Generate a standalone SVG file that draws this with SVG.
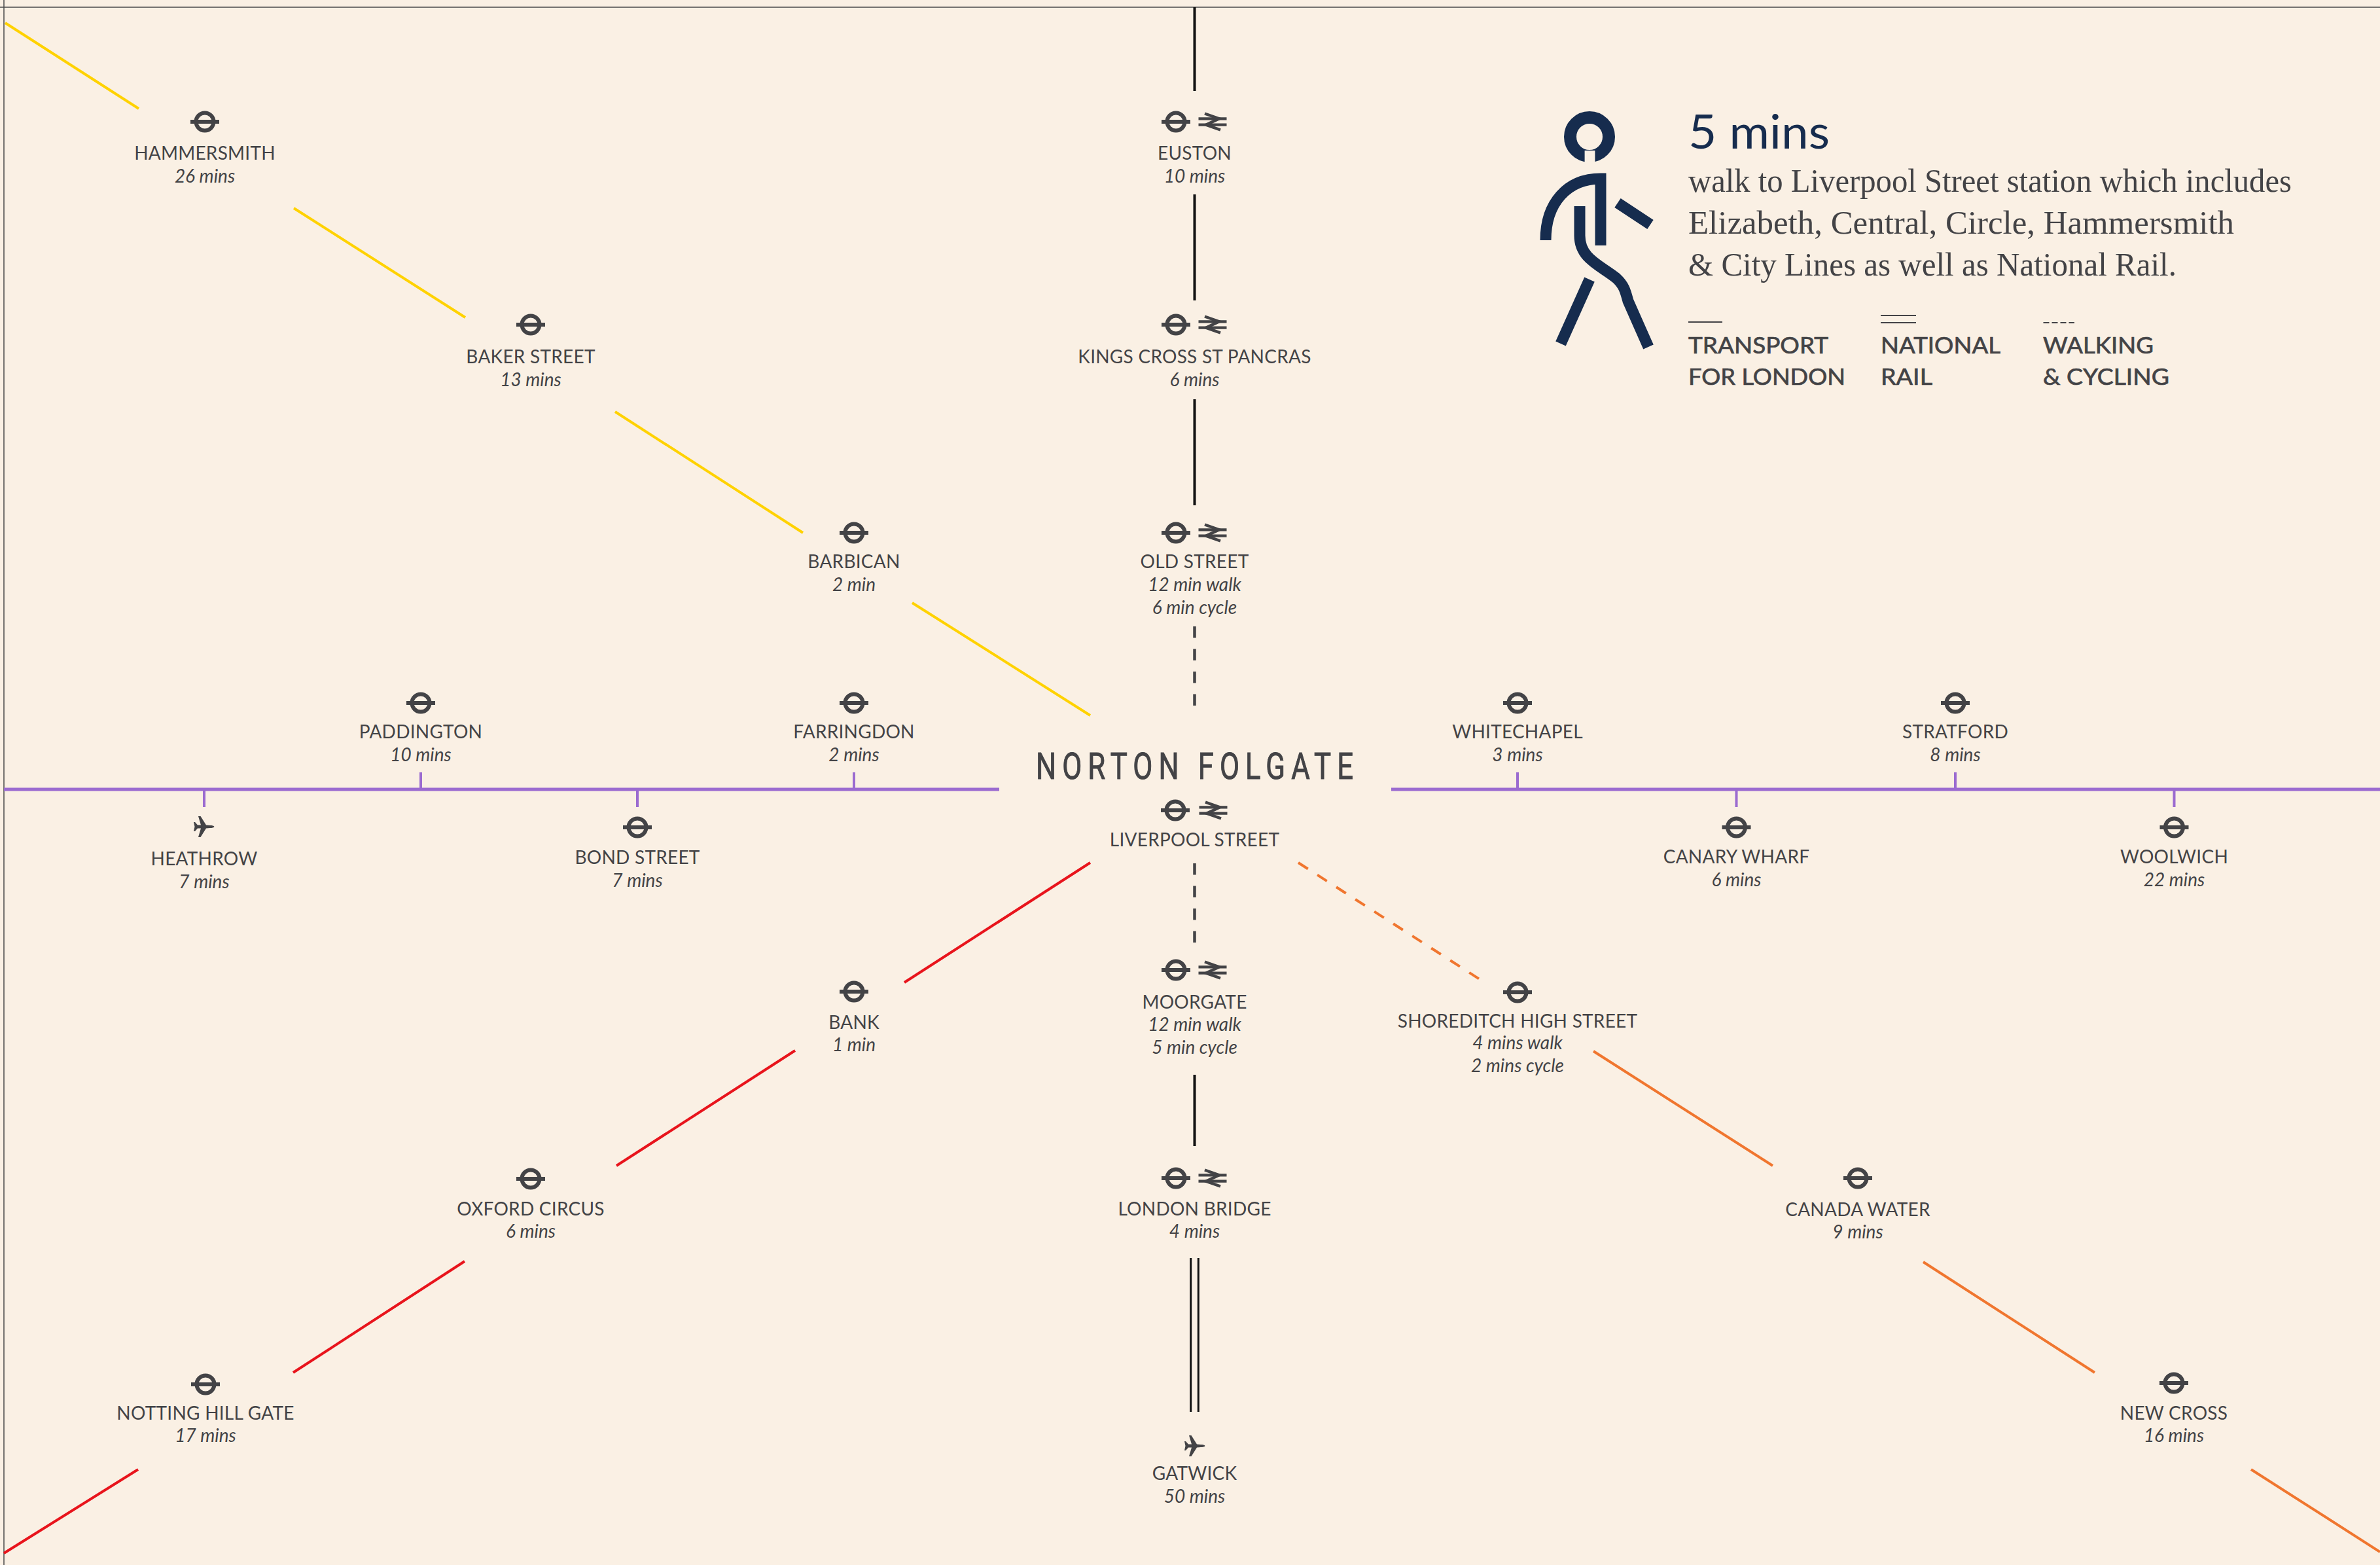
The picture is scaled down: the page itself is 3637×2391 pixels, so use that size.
<svg xmlns="http://www.w3.org/2000/svg" width="3637" height="2391" viewBox="0 0 3637 2391">
<style>
text{font-family:"Lato","Open Sans","Liberation Sans",sans-serif;fill:#434346}
.n{font-size:28px;letter-spacing:.25px;text-anchor:middle}
.m{font-size:28px;font-style:italic;text-anchor:middle}
.b{font-family:"Liberation Serif",serif;font-size:50px}
.k{font-size:35px;stroke:#434346;stroke-width:.7px}
.l{fill:none;stroke-width:4}
.y{stroke:#FFD200}.r{stroke:#E8141C}.o{stroke:#F0762F}.p{stroke:#9B6BD0}.v{stroke:#111}.d{stroke:#434346;stroke-width:4.5;stroke-dasharray:17.5 17}
.w{fill:none;stroke:#162C4E;stroke-width:17}
</style>
<defs>
<g id="tfl"><circle r="13.5" fill="none" stroke="#434346" stroke-width="6"/><rect x="-22" y="-3" width="44" height="6" fill="#434346"/></g>
<g id="rail"><path d="M-21.5 -4.7H21.5M-21.5 4.7H21.5" stroke="#434346" stroke-width="4.2" fill="none"/><path d="M-12 -12.5L10 -4.7L-10 4.7L12 12.5" stroke="#434346" stroke-width="4.5" fill="none"/></g>
<path id="plane" fill="#434346" d="M15.5 0C15 -1.5 12 -2 9 -2L3 -2.5L-5.5 -16L-9 -16L-5 -2.5L-10 -2.5L-14 -7L-16 -7L-14.5 0L-16 7L-14 7L-10 2.5L-5 2.5L-9 16L-5.5 16L3 2.5L9 2C12 2 15 1.5 15.5 0Z"/>
</defs>
<rect width="3637" height="2391" fill="#FAF0E4"/>
<path d="M0 11H3637M6 0V2391" stroke="#4a4a4a" stroke-width="1.5" fill="none"/>
<g id="connectors">
<path class="l y" d="M8 35L212 166M449 318L711 485M940 629L1227 814M1394 921L1666 1093"/>
<path class="l r" d="M1666 1318L1382 1501M1215 1605L942 1781M710 1927L448 2097M211 2245L6 2373"/>
<path class="l o" d="M2435 1606L2709 1781M2939 1928L3201 2097M3440 2245L3637 2371"/>
<path class="l o" stroke-dasharray="17.5 17" d="M1984 1318L2261 1496"/>
<path class="l v" d="M1825.5 11V139M1825.5 297V459M1825.5 610V772M1825.5 1642V1751"/>
<path class="l d" d="M1825.5 957V1080M1825.5 1319V1442"/>
<path class="v" fill="none" stroke-width="3" d="M1819.7 1922V2157M1831.3 1922V2157"/>
<path class="l p" style="stroke-width:5" d="M6 1206H1527M2126 1206H3637"/>
<path class="l p" d="M312 1206V1233M643 1206V1180M974 1206V1233M1305 1206V1180M2319 1206V1180M2653.5 1206V1233M2988 1206V1180M3322.5 1206V1233"/>
</g>
<g id="title"><text transform="translate(1825.5,1190) scale(.78,1)" text-anchor="middle" textLength="622" lengthAdjust="spacing" style="font-family:Roboto,sans-serif;font-size:56px;font-weight:400;stroke:#434346;stroke-width:1px">NORTON FOLGATE</text></g>
<g id="hammersmith"><use href="#tfl" x="313" y="186"/><text class="n" x="313" y="244">HAMMERSMITH</text><text class="m" x="313" y="279">26 mins</text></g>
<g id="baker-street"><use href="#tfl" x="811" y="496"/><text class="n" x="811" y="555">BAKER STREET</text><text class="m" x="811" y="590">13 mins</text></g>
<g id="barbican"><use href="#tfl" x="1305" y="814"/><text class="n" x="1305" y="868">BARBICAN</text><text class="m" x="1305" y="903">2 min</text></g>
<g id="paddington"><use href="#tfl" x="643" y="1074"/><text class="n" x="643" y="1128">PADDINGTON</text><text class="m" x="643" y="1163">10 mins</text></g>
<g id="farringdon"><use href="#tfl" x="1305" y="1074"/><text class="n" x="1305" y="1128">FARRINGDON</text><text class="m" x="1305" y="1163">2 mins</text></g>
<g id="heathrow"><use href="#plane" x="312" y="1263"/><text class="n" x="312" y="1322">HEATHROW</text><text class="m" x="312" y="1357">7 mins</text></g>
<g id="bond-street"><use href="#tfl" x="974" y="1264"/><text class="n" x="974" y="1320">BOND STREET</text><text class="m" x="974" y="1355">7 mins</text></g>
<g id="bank"><use href="#tfl" x="1305" y="1515"/><text class="n" x="1305" y="1572">BANK</text><text class="m" x="1305" y="1606">1 min</text></g>
<g id="oxford-circus"><use href="#tfl" x="811" y="1801"/><text class="n" x="811" y="1857">OXFORD CIRCUS</text><text class="m" x="811" y="1891">6 mins</text></g>
<g id="notting-hill-gate"><use href="#tfl" x="314" y="2115"/><text class="n" x="314" y="2169">NOTTING HILL GATE</text><text class="m" x="314" y="2203">17 mins</text></g>
<g id="euston"><use href="#tfl" x="1797" y="186"/><use href="#rail" x="1853" y="186"/><text class="n" x="1825.5" y="244">EUSTON</text><text class="m" x="1825.5" y="279">10 mins</text></g>
<g id="kings-cross"><use href="#tfl" x="1797" y="496"/><use href="#rail" x="1853" y="496"/><text class="n" x="1825.5" y="555">KINGS CROSS ST PANCRAS</text><text class="m" x="1825.5" y="590">6 mins</text></g>
<g id="old-street"><use href="#tfl" x="1797" y="814"/><use href="#rail" x="1853" y="814"/><text class="n" x="1825.5" y="868">OLD STREET</text><text class="m" x="1825.5" y="903">12 min walk</text><text class="m" x="1825.5" y="938">6 min cycle</text></g>
<g id="liverpool-street"><use href="#tfl" x="1796" y="1238"/><use href="#rail" x="1854" y="1238"/><text class="n" x="1825.5" y="1293">LIVERPOOL STREET</text></g>
<g id="moorgate"><use href="#tfl" x="1797" y="1482"/><use href="#rail" x="1853" y="1482"/><text class="n" x="1825.5" y="1541">MOORGATE</text><text class="m" x="1825.5" y="1575">12 min walk</text><text class="m" x="1825.5" y="1610">5 min cycle</text></g>
<g id="london-bridge"><use href="#tfl" x="1797" y="1800"/><use href="#rail" x="1853" y="1800"/><text class="n" x="1825.5" y="1857">LONDON BRIDGE</text><text class="m" x="1825.5" y="1891">4 mins</text></g>
<g id="gatwick"><use href="#plane" x="1826" y="2209"/><text class="n" x="1825.5" y="2261">GATWICK</text><text class="m" x="1825.5" y="2296">50 mins</text></g>
<g id="whitechapel"><use href="#tfl" x="2319" y="1074"/><text class="n" x="2319" y="1128">WHITECHAPEL</text><text class="m" x="2319" y="1163">3 mins</text></g>
<g id="stratford"><use href="#tfl" x="2988" y="1074"/><text class="n" x="2988" y="1128">STRATFORD</text><text class="m" x="2988" y="1163">8 mins</text></g>
<g id="canary-wharf"><use href="#tfl" x="2653.5" y="1264"/><text class="n" x="2653.5" y="1319">CANARY WHARF</text><text class="m" x="2653.5" y="1354">6 mins</text></g>
<g id="woolwich"><use href="#tfl" x="3322.5" y="1264"/><text class="n" x="3322.5" y="1319">WOOLWICH</text><text class="m" x="3322.5" y="1354">22 mins</text></g>
<g id="shoreditch-high-street"><use href="#tfl" x="2319" y="1516"/><text class="n" x="2319" y="1570">SHOREDITCH HIGH STREET</text><text class="m" x="2319" y="1603">4 mins walk</text><text class="m" x="2319" y="1638">2 mins cycle</text></g>
<g id="canada-water"><use href="#tfl" x="2839" y="1800"/><text class="n" x="2839" y="1858">CANADA WATER</text><text class="m" x="2839" y="1892">9 mins</text></g>
<g id="new-cross"><use href="#tfl" x="3322" y="2113"/><text class="n" x="3322" y="2169">NEW CROSS</text><text class="m" x="3322" y="2203">16 mins</text></g>
<g id="walker">
<circle cx="2429" cy="209" r="29.5" fill="none" stroke="#162C4E" stroke-width="19"/>
<rect x="2421.6" y="230" width="15.8" height="20" fill="#FAF0E4"/>
<path class="w" d="M2362 367C2362 310 2395 273 2446 273V375"/>
<path class="w" d="M2414 315V360C2414 395 2445 405 2470 425C2482 436 2484 445 2488 460L2519 530"/>
<path class="w" d="M2472 310L2522 343"/>
<path class="w" d="M2429 427L2385 525"/>
</g>
<g id="legend">
<text x="2580" y="227" textLength="216" lengthAdjust="spacingAndGlyphs" style="font-size:72px;fill:#162C4E">5 mins</text>
<text class="b" x="2580" y="293" textLength="922" lengthAdjust="spacingAndGlyphs">walk to Liverpool Street station which includes</text>
<text class="b" x="2580" y="357" textLength="834" lengthAdjust="spacingAndGlyphs">Elizabeth, Central, Circle, Hammersmith</text>
<text class="b" x="2580" y="421" textLength="746" lengthAdjust="spacingAndGlyphs">&amp; City Lines as well as National Rail.</text>
<path d="M2580 492H2632M2874 482H2928M2874 493H2928" stroke="#434346" stroke-width="2" fill="none"/>
<path d="M3122.5 493H3170" stroke="#434346" stroke-width="2" stroke-dasharray="9 4" fill="none"/>
<text class="k" x="2580" y="540" textLength="214" lengthAdjust="spacingAndGlyphs">TRANSPORT</text>
<text class="k" x="2580" y="588" textLength="240" lengthAdjust="spacingAndGlyphs">FOR LONDON</text>
<text class="k" x="2874" y="540" textLength="183" lengthAdjust="spacingAndGlyphs">NATIONAL</text>
<text class="k" x="2874" y="588" textLength="79" lengthAdjust="spacingAndGlyphs">RAIL</text>
<text class="k" x="3122" y="540" textLength="169" lengthAdjust="spacingAndGlyphs">WALKING</text>
<text class="k" x="3122" y="588" textLength="193" lengthAdjust="spacingAndGlyphs">&amp; CYCLING</text>
</g>
</svg>
